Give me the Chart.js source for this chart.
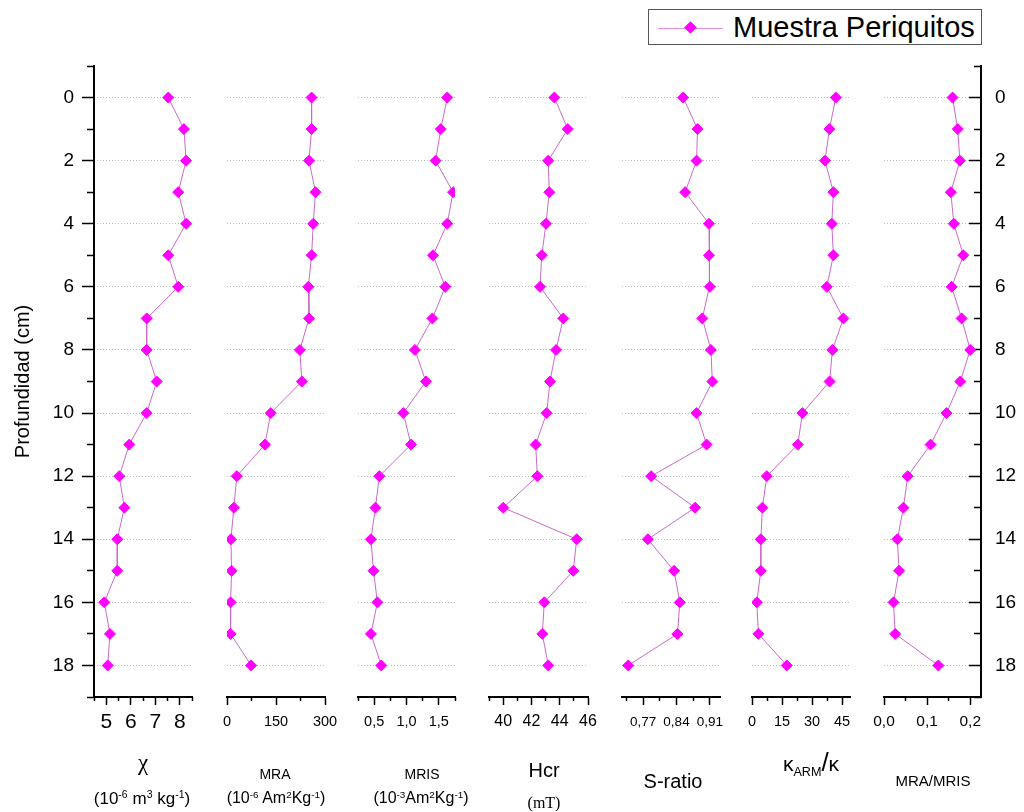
<!DOCTYPE html>
<html><head><meta charset="utf-8">
<script src="https://cdn.jsdelivr.net/npm/chart.js@4.4.1/dist/chart.umd.min.js"></script>
<style>
html,body{margin:0;padding:0;background:#fff;}
#wrap{position:relative;width:1024px;height:812px;overflow:hidden;font-family:"Liberation Sans",Arial,sans-serif;color:#000;}
#wrap canvas{position:absolute;left:0;top:0;}
.t{position:absolute;white-space:nowrap;transform:translate(-50%,-50%);line-height:1;}
.t sup{font-size:62%;vertical-align:0.55em;line-height:0;}
.t sub{font-size:60%;vertical-align:-0.4em;line-height:0;}
#legend{position:absolute;left:648px;top:9px;width:332px;height:34px;border:1px solid #555;background:#fff;}
#legline{position:absolute;left:9px;top:18px;width:65px;height:1px;background:#e38de3;}
#legdia{position:absolute;left:37px;top:13px;width:9px;height:9px;background:#ff00ff;transform:rotate(45deg);}
#legtxt{position:absolute;left:84px;top:3px;font-size:29px;line-height:29px;}
</style></head><body>
<div id="wrap">
<canvas id="c0" width="1024" height="812"></canvas>
<canvas id="c1" width="1024" height="812"></canvas>
<canvas id="c2" width="1024" height="812"></canvas>
<canvas id="c3" width="1024" height="812"></canvas>
<canvas id="c4" width="1024" height="812"></canvas>
<canvas id="c5" width="1024" height="812"></canvas>
<canvas id="c6" width="1024" height="812"></canvas>

<div class="t" style="left:143px;top:763px;font:23px 'Liberation Serif',serif;">χ</div>
<div class="t" style="left:142px;top:798px;font-size:17px;">(10<sup>-6</sup> m<sup>3</sup> kg<sup>-1</sup>)</div>
<div class="t" style="left:275px;top:774px;font-size:14px;">MRA</div>
<div class="t" style="left:276px;top:798px;font-size:16px;">(10<sup>-6</sup> Am<sup>2</sup>Kg<sup>-1</sup>)</div>
<div class="t" style="left:422px;top:774px;font-size:14px;">MRIS</div>
<div class="t" style="left:421px;top:798px;font-size:16px;">(10<sup>-3</sup>Am<sup>2</sup>Kg<sup>-1</sup>)</div>
<div class="t" style="left:544px;top:770px;font-size:20px;">Hcr</div>
<div class="t" style="left:544px;top:803px;font:16px 'Liberation Serif',serif;">(mT)</div>
<div class="t" style="left:673px;top:781px;font-size:20px;">S-ratio</div>
<div class="t" style="left:811px;top:762px;font-size:21px;">κ<sub>ARM</sub><span style="font-size:26px">/</span>κ</div>
<div class="t" style="left:933px;top:780px;font-size:15px;">MRA/MRIS</div>

<div id="legend"><div id="legline"></div><div id="legdia"></div><div id="legtxt">Muestra Periquitos</div></div>
</div>
<script>
// ---- data ----
const depth = [0,1,2,3,4,5,6,7,8,9,10,11,12,13,14,15,16,17,18];
const chi = [7.53,8.17,8.26,7.94,8.26,7.53,7.94,6.65,6.65,7.06,6.65,5.94,5.53,5.74,5.45,5.45,4.92,5.15,5.06];
const mra = [259,259,251,271,264,259,249,251,223,229,134,116,30,21,12,14,11,11,74];
const mris = [1.63,1.53,1.45,1.72,1.63,1.41,1.60,1.40,1.13,1.30,0.95,1.07,0.58,0.52,0.45,0.49,0.55,0.45,0.61];
const hcr = [43.62,44.57,43.19,43.26,43.03,42.73,42.61,44.25,43.74,43.31,43.08,42.30,42.42,40.01,45.20,44.96,42.91,42.77,43.19];
const sratio = [0.854,0.884,0.882,0.858,0.908,0.908,0.910,0.894,0.912,0.915,0.882,0.903,0.787,0.879,0.780,0.835,0.847,0.842,0.739];
const karm = [41.9,38.7,36.5,40.7,39.9,40.7,37.4,45.7,40.2,38.8,25.2,22.9,7.4,5.2,4.4,4.4,2.4,3.2,17.4];
const ratio = [0.159,0.171,0.176,0.155,0.162,0.184,0.157,0.180,0.200,0.177,0.145,0.108,0.055,0.045,0.031,0.035,0.022,0.026,0.126];

// ---- tick values and labels ----
const depthTicks = [0,2,4,6,8,10,12,14,16,18];
const depthLabels = ['0','2','4','6','8','10','12','14','16','18'];
const depthMinor = [-1,1,3,5,7,9,11,13,15,17,19];
const chiTicks = [5,6,7,8], chiLabels = ['5','6','7','8'], chiMinor = [4.5,5.5,6.5,7.5,8.5];
const mraTicks = [0,150,300], mraLabels = ['0','150','300'], mraMinor = [75,225];
const mrisTicks = [0.5,1.0,1.5], mrisLabels = ['0,5','1,0','1,5'], mrisMinor = [0.25,0.75,1.25,1.75];
const hcrTicks = [40,42,44,46], hcrLabels = ['40','42','44','46'], hcrMinor = [39,41,43,45];
const sratioTicks = [0.77,0.84,0.91], sratioLabels = ['0,77','0,84','0,91'], sratioMinor = [0.735,0.805,0.875];
const karmTicks = [0,15,30,45], karmLabels = ['0','15','30','45'], karmMinor = [7.5,22.5,37.5];
const ratioTicks = [0,0.1,0.2], ratioLabels = ['0,0','0,1','0,2'], ratioMinor = [0.05,0.15];
const seriesName = 'Muestra Periquitos';

const panels = [
  {data: chi,    min: 4.5,   max: 8.5,   major: chiTicks,    labels: chiLabels,    minor: chiMinor},
  {data: mra,    min: 0,     max: 300,   major: mraTicks,    labels: mraLabels,    minor: mraMinor},
  {data: mris,   min: 0.25,  max: 1.75,  major: mrisTicks,   labels: mrisLabels,   minor: mrisMinor},
  {data: hcr,    min: 39,    max: 46,    major: hcrTicks,    labels: hcrLabels,    minor: hcrMinor},
  {data: sratio, min: 0.726, max: 0.931, major: sratioTicks, labels: sratioLabels, minor: sratioMinor},
  {data: karm,   min: 0,     max: 49,    major: karmTicks,   labels: karmLabels,   minor: karmMinor},
  {data: ratio,  min: 0,     max: 0.225, major: ratioTicks,  labels: ratioLabels,  minor: ratioMinor}
];

// ---- layout / style ----
const frames = [[94,192],[227,325],[358,455],[489,588],[622,720],[752,850],[884,981]];
const tickFont = [21,14.5,14.5,16,13.5,14.5,15.5];
const FAM = "'Liberation Sans', Arial, sans-serif";
const plotTop = 66, plotBottom = 697, xAxisH = 40;

function setTicks(arr){ return s => { s.ticks = arr.map(v => ({value: v})); }; }

function makeChart(i){
  const p = panels[i], f = frames[i];
  const first = i === 0, last = i === panels.length - 1;
  const yW = first ? 87 : 0, yWr = last ? 40 : 0;
  const fs = tickFont[i];
  const scales = {
    x: {type:'linear', position:'bottom', weight:1, min:p.min, max:p.max,
        afterBuildTicks: setTicks(p.major), afterFit: s => { s.height = xAxisH; },
        grid:{drawOnChartArea:false, drawTicks:true, tickLength:8, color:'#000', tickColor:'#000', tickWidth:1.5},
        border:{display:true, color:'#000', width:2},
        ticks:{autoSkip:false, maxRotation:0, minRotation:0, padding: Math.max(17 - 0.6*fs, 2), color:'#000',
               font:{family:FAM, size:fs}, callback:(v,idx) => p.labels[idx]}},
    xMinor: {type:'linear', position:'bottom', weight:0, min:p.min, max:p.max,
        afterBuildTicks: setTicks(p.minor), afterFit: s => { s.height = 0; },
        grid:{drawOnChartArea:false, drawTicks:true, tickLength:4, color:'#000', tickColor:'#000', tickWidth:1.5},
        border:{display:false}, ticks:{display:false}},
    y: {type:'linear', position: last ? 'right' : 'left', weight:0, reverse:true, min:-1, max:19,
        afterBuildTicks: setTicks(depthTicks), afterFit: s => { s.width = 0; },
        grid:{drawOnChartArea:true, drawTicks:false, color:'#bcbcbc', lineWidth:1},
        border:{display:false, dash:[1,2]}, ticks:{display:false}}
  };
  if (first || last){
    const pos = first ? 'left' : 'right';
    scales.yMinor = {type:'linear', position:pos, weight:1, reverse:true, min:-1, max:19,
        afterBuildTicks: setTicks(depthMinor), afterFit: s => { s.width = 0; },
        grid:{drawOnChartArea:false, drawTicks:true, tickLength: first ? 7 : -7, color:'#000', tickColor:'#000', tickWidth:1.5},
        border:{display:false}, ticks:{display:false}};
    scales.yMajor = {type:'linear', position:pos, weight:2, reverse:true, min:-1, max:19,
        afterBuildTicks: setTicks(depthTicks), afterFit: s => { s.width = first ? yW : yWr; },
        grid:{drawOnChartArea:false, drawTicks:true, tickLength: first ? 12 : -12, color:'#000', tickColor:'#000', tickWidth:1.5},
        border:{display:true, color:'#000', width:2},
        title: first ? {display:true, text:'Profundidad (cm)', color:'#000', font:{family:FAM, size:20}, padding:{top:4,bottom:4}} : {display:false},
        ticks:{autoSkip:false, padding: first ? 8 : 26, color:'#000', font:{family:FAM, size:19},
               callback:(v,idx) => depthLabels[idx]}};
  }
  return new Chart(document.getElementById('c'+i), {
    type:'scatter',
    data:{datasets:[{
      label: seriesName,
      data: depth.map((d,k) => ({x: p.data[k], y: d})),
      showLine:true, borderColor:'#c96ac9', borderWidth:1, tension:0,
      pointStyle:'rectRot', pointRadius:5.5, pointHoverRadius:5.5,
      pointBackgroundColor:'#ff00ff', pointBorderColor:'#ff00ff', pointBorderWidth:1,
      xAxisID:'x', yAxisID:'y'
    }]},
    options:{
      responsive:false, animation:false, devicePixelRatio:1,
      layout:{padding:{left:f[0]-yW, right:1024-f[1]-yWr, top:plotTop, bottom:812-plotBottom-xAxisH}},
      plugins:{legend:{display:false}, tooltip:{enabled:false}, title:{display:false}},
      events:[],
      scales
    }
  });
}
for (let i = 0; i < panels.length; i++) makeChart(i);
</script>
</body></html>
